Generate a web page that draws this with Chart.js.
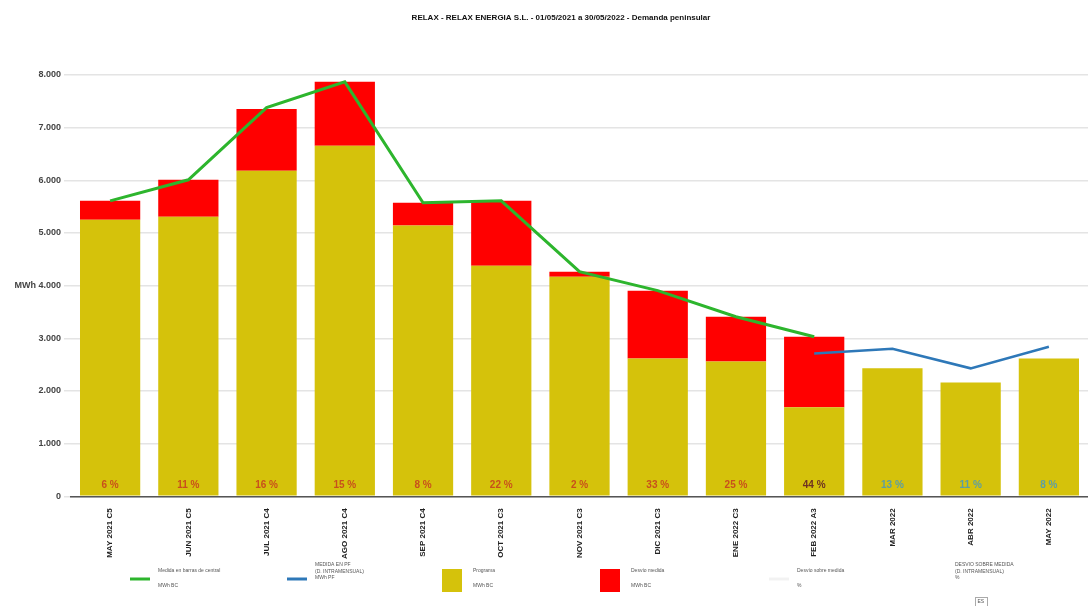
<!DOCTYPE html>
<html>
<head>
<meta charset="utf-8">
<script src="https://cdn.jsdelivr.net/npm/chart.js@4"></script>
<style>
  html, body { margin: 0; padding: 0; background: #fff; }
  #wrap { position: relative; width: 1088px; height: 606px; }
</style>
</head>
<body>
<div id="wrap"><canvas id="myChart" width="1088" height="606"></canvas></div>
<script>
const categorias = ['MAY 2021 C5', 'JUN 2021 C5', 'JUL 2021 C4', 'AGO 2021 C4', 'SEP 2021 C4', 'OCT 2021 C3',
    'NOV 2021 C3', 'DIC 2021 C3', 'ENE 2022 C3', 'FEB 2022 A3', 'MAR 2022', 'ABR 2022', 'MAY 2022'];
const programa = [5250, 5310, 6180, 6655, 5140, 4380, 4170, 2615, 2560, 1690, 2430, 2160, 2615];
const desvioMedida = [360, 700, 1175, 1215, 435, 1230, 95, 1290, 850, 1340, null, null, null];
const medidaBC = [5610, 6010, 7380, 7870, 5575, 5610, 4265, 3905, 3410, 3030, null, null, null];
const medidaPF = [null, null, null, null, null, null, null, null, null, 2710, 2800, 2430, 2840];
const desvioPct = ['6 %', '11 %', '16 %', '15 %', '8 %', '22 %', '2 %', '33 %', '25 %', '44 %', '13 %', '11 %', '8 %'];
const pctColores = ['#c8501c', '#c8501c', '#c8501c', '#c8501c', '#c8501c', '#c8501c', '#c8501c', '#c8501c', '#c8501c',
    '#6e3222', '#5d9ea3', '#5d9ea3', '#5d9ea3'];

const titulo = 'RELAX - RELAX ENERGIA S.L. - 01/05/2021 a 30/05/2022 - Demanda peninsular';
const leyenda = [
    { tipo: 'line', color: '#2db52d', x: 118, lineas: ['Medida en barras de central', 'MWh BC'] },
    { tipo: 'line', color: '#2e78b8', x: 275, lineas: ['MEDIDA EN PF', '(D. INTRAMENSUAL)', 'MWh PF'] },
    { tipo: 'box', color: '#d5c20b', x: 442, lineas: ['Programa', 'MWh BC'] },
    { tipo: 'box', color: '#ff0000', x: 600, lineas: ['Desvío medida', 'MWh BC'] },
    { tipo: 'line', color: '#f2f2f2', x: 757, lineas: ['Desvío sobre medida', '%'] },
    { tipo: 'none', color: '#fff', x: 915, lineas: ['DESVIO SOBRE MEDIDA', '(D. INTRAMENSUAL)', '%'] }
];

const ctx = document.getElementById('myChart').getContext('2d');

const extras = {
    id: 'extras',
    afterDatasetsDraw(chart) {
        const c = chart.ctx;
        const meta = chart.getDatasetMeta(2);
        const yb = chart.scales.y.bottom;
        c.save();
        c.font = 'bold 10px Arial, "Liberation Sans", sans-serif';
        c.textAlign = 'center';
        c.textBaseline = 'middle';
        meta.data.forEach((bar, i) => {
            c.fillStyle = pctColores[i];
            c.fillText(desvioPct[i], bar.x, yb - 11);
        });
        c.restore();
    },
    afterDraw(chart) {
        const c = chart.ctx;
        c.save();
        c.fillStyle = '#111';
        c.font = 'bold 8px Arial, "Liberation Sans", sans-serif';
        c.textAlign = 'center';
        c.textBaseline = 'middle';
        c.fillText(titulo, 561, 18);

        // legend
        c.textAlign = 'left';
        c.font = '5px Arial, "Liberation Sans", sans-serif';
        leyenda.forEach(item => {
            if (item.tipo === 'line') {
                c.strokeStyle = item.color;
                c.lineWidth = 3;
                c.beginPath();
                c.moveTo(item.x + 12, 579);
                c.lineTo(item.x + 32, 579);
                c.stroke();
            } else if (item.tipo === 'box') {
                c.fillStyle = item.color;
                c.fillRect(item.x, 569, 20, 23);
            }
            c.fillStyle = '#555';
            const tx = item.x + (item.tipo === 'box' ? 31 : 40);
            if (item.lineas.length === 2) {
                c.fillText(item.lineas[0], tx, 571);
                c.fillText(item.lineas[1], tx, 586);
            } else {
                item.lineas.forEach((t, k) => c.fillText(t, tx, 565 + k * 6.5));
            }
        });
        c.strokeStyle = '#aaa';
        c.lineWidth = 1;
        c.strokeRect(975.5, 597.5, 12, 9);
        c.fillStyle = '#555';
        c.font = '5px Arial, sans-serif';
        c.fillText('ES', 977.5, 602);
        c.restore();
    }
};

const myChart = new Chart(ctx, {
    type: 'bar',
    data: {
        labels: categorias,
        datasets: [
            {
                type: 'line',
                label: 'Medida en barras de central',
                data: medidaBC,
                borderColor: '#2db52d',
                borderWidth: 3,
                pointRadius: 0,
                tension: 0,
                stack: 'bc',
                order: 0
            },
            {
                type: 'line',
                label: 'MEDIDA EN PF (D. INTRAMENSUAL)',
                data: medidaPF,
                borderColor: '#2e78b8',
                borderWidth: 2.5,
                pointRadius: 0,
                tension: 0,
                stack: 'pf',
                order: 0
            },
            {
                label: 'Programa',
                data: programa,
                backgroundColor: '#d5c20b',
                stack: 'barras',
                barPercentage: 0.77,
                categoryPercentage: 1,
                order: 1
            },
            {
                label: 'Desvío medida',
                data: desvioMedida,
                backgroundColor: '#ff0000',
                stack: 'barras',
                barPercentage: 0.77,
                categoryPercentage: 1,
                order: 1
            }
        ]
    },
    options: {
        responsive: false,
        animation: false,
        layout: { padding: { top: 75, left: 0, right: 0, bottom: 43 } },
        plugins: {
            legend: { display: false },
            tooltip: { enabled: false }
        },
        scales: {
            x: {
                stacked: true,
                grid: { display: false },
                border: { display: true, color: '#555', width: 1.5 },
                ticks: {
                    color: '#222',
                    font: { size: 8, weight: 'bold', family: 'Arial, "Liberation Sans", sans-serif' },
                    maxRotation: 90,
                    minRotation: 90,
                    padding: 4,
                    autoSkip: false
                }
            },
            y: {
                stacked: true,
                min: 0,
                max: 8000,
                afterFit: (scale) => { scale.width = 71; },
                border: { display: false },
                grid: { color: '#e4e4e4', lineWidth: 1.5, tickLength: 7 },
                ticks: {
                    stepSize: 1000,
                    color: '#444',
                    padding: 3,
                    font: { size: 9, weight: 'bold', family: 'Arial, "Liberation Sans", sans-serif' },
                    callback: (v) => {
                        const s = v === 0 ? '0' : (v / 1000) + '.000';
                        return v === 4000 ? 'MWh ' + s : s;
                    }
                }
            }
        }
    },
    plugins: [extras]
});
</script>
</body>
</html>
